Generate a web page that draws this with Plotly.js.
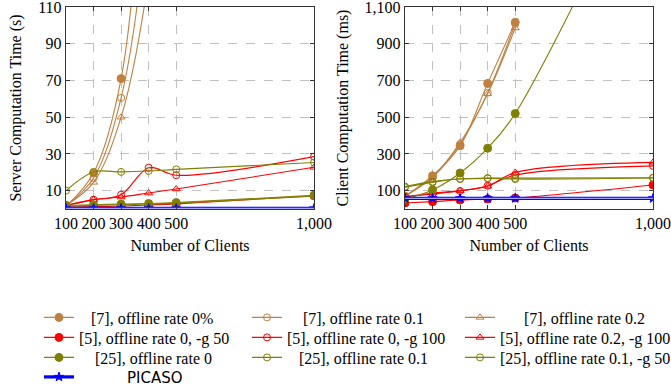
<!DOCTYPE html>
<html>
<head>
<meta charset="utf-8">
<script src="https://cdn.plot.ly/plotly-3.0.1.min.js"></script>
<style>html,body{margin:0;padding:0;background:#fff;}#chart{width:671px;height:387px;}</style>
</head>
<body>
<div id="chart"></div>
<script>
// Number of clients
const clients = [100, 200, 300, 400, 500, 1000];

// Server computation time (s)
const srv_7_0   = [1.5, 19.6, 71, 230, 400, null];
const srv_7_01  = [1.8, 16.9, 60.5, 160, 300, null];
const srv_7_02  = [2.0, 14.5, 50, 125, 250, null];
const srv_5_0_g50   = [1.0, 1.3, 1.6, 2.2, 2.8, 7.2];
const srv_5_0_g100  = [1.8, 5.1, 7.8, 22.5, 18.4, 28.5];
const srv_5_02_g100 = [2.0, 5.0, 6.5, 8.7, 10.9, 22.7];
const srv_25_0      = [2.0, 2.3, 2.7, 3.0, 3.5, 7.5];
const srv_25_01     = [10.0, 20.2, 20.2, 20.7, 21.6, 25.3];
const srv_25_01_g50 = [1.5, 2.0, 2.3, 2.7, 3.2, 7.0];
const srv_picaso    = [0.3, 0.3, 0.3, 0.3, 0.3, 0.3];

// Client computation time (ms)
const cli_7_0   = [70, 181, 344, 684, 1017, null];
const cli_7_01  = [70, 172, 353, 633, 1008, null];
const cli_7_02  = [70, 175, 362, 628, 986, null];
const cli_5_0_g50   = [33, 40, 49, 55, 60, 131];
const cli_5_0_g100  = [67, 82, 98, 127, 185, 235];
const cli_5_02_g100 = [67, 86, 100, 124, 199, 254];
const cli_25_0      = [55, 104, 196, 331, 520, 2000];
const cli_25_01     = [122, 149, 163, 167, 163, 169];
const cli_25_01_g50 = [118, 145, 165, 168, 168, 170];
const cli_picaso    = [58, 58, 58, 58, 58, 58];

const seriesNames = [
  "[7], offline rate 0%", "[7], offline rate 0.1", "[7], offline rate 0.2",
  "[5], offline rate 0, -g 50", "[5], offline rate 0, -g 100", "[5], offline rate 0.2, -g 100",
  "[25], offline rate 0", "[25], offline rate 0.1", "[25], offline rate 0.1, -g 50",
  "PICASO"
];

const BROWN = "rgb(191,128,64)", RED = "rgb(255,0,0)", OLIVE = "rgb(128,128,0)", BLUE = "rgb(0,0,255)";
const styles = [
  {c: BROWN, s: "circle", open: false},
  {c: BROWN, s: "circle-open", open: true},
  {c: BROWN, s: "triangle-up-open", open: true},
  {c: RED, s: "circle", open: false},
  {c: RED, s: "circle-open", open: true},
  {c: RED, s: "triangle-up-open", open: true},
  {c: OLIVE, s: "circle", open: false},
  {c: OLIVE, s: "circle-open", open: true},
  {c: OLIVE, s: "circle-open", open: true},
  {c: BLUE, s: "star", open: false}
];

// legend placement (3 columns x 4 rows, centred text like the original)
const legCol = [0, 1, 2, 0, 1, 2, 0, 1, 2, 0];
const legRow = [0, 0, 0, 1, 1, 1, 2, 2, 2, 3];
const legPad = [3, 4, 6, 0, 0, 0, 4, 3, 0, 12];
const colX = [39, 247, 460];
const rowTop = [300.5, 320.5, 340.5, 360];

const serverData = [srv_7_0, srv_7_01, srv_7_02, srv_5_0_g50, srv_5_0_g100, srv_5_02_g100, srv_25_0, srv_25_01, srv_25_01_g50, srv_picaso];
const clientData = [cli_7_0, cli_7_01, cli_7_02, cli_5_0_g50, cli_5_0_g100, cli_5_02_g100, cli_25_0, cli_25_01, cli_25_01_g50, cli_picaso];

function legId(i) { return i === 0 ? "legend" : "legend" + (i + 1); }

const traces = [];
function addSet(data, xa, ya, showLegend) {
  data.forEach((ys, i) => {
    const st = styles[i];
    const isPicaso = i === 9;
    let name = seriesNames[i];
    if (isPicaso) name = '<span style="font-family:DejaVu Sans;font-size:15px">' + name + '</span>';
    name = "\u00A0".repeat(legPad[i]) + name;
    traces.push({
      x: clients, y: ys, xaxis: xa, yaxis: ya,
      type: "scatter", mode: "lines+markers",
      name: name, showlegend: showLegend, legend: legId(i), legendgroup: "g" + i,
      line: {color: st.c, width: isPicaso ? 3.2 : 1.1, shape: "spline", smoothing: 1},
      marker: {symbol: st.s, color: st.c, size: st.open ? 7 : (isPicaso ? 7 : 8),
               line: {color: st.c, width: 1}},
      connectgaps: false, cliponaxis: true, hoverinfo: "skip"
    });
    if (isPicaso) {
      traces.push({
        x: clients, y: ys, xaxis: xa, yaxis: ya, type: "scatter", mode: "lines",
        showlegend: false, legendgroup: "g" + i, hoverinfo: "skip",
        line: {color: "rgb(160,160,255)", width: 1.4}
      });
    }
  });
}
addSet(serverData, "x", "y", true);
addSet(clientData, "x2", "y2", false);

function mkFont() { return {family: "Liberation Serif", size: 16, color: "#000"}; }
function axisCommon() {
  return {
    showline: true, mirror: "ticks", linecolor: "#333", linewidth: 1.2,
    ticks: "inside", ticklen: 4, tickcolor: "#333",
    showgrid: true, gridcolor: "#c0c0c0", griddash: "dash", gridwidth: 1,
    zeroline: false, tickfont: mkFont(), tickformat: ",d", ticklabeloverflow: "allow"
  };
}

const TOP = 7, BOT = 178, PH = 387 - TOP - BOT;
const layout = {
  width: 671, height: 387,
  margin: {l: 0, r: 0, t: TOP, b: BOT, autoexpand: false},
  paper_bgcolor: "#fff", plot_bgcolor: "#fff",
  font: mkFont(),
  showlegend: true,
  xaxis: Object.assign(axisCommon(), {domain: [66/671, 314/671], range: [100, 1000],
    tickvals: clients, title: {text: "Number of Clients", font: mkFont(), standoff: 8}}),
  yaxis: Object.assign(axisCommon(), {range: [0, 110], tickvals: [10, 30, 50, 70, 90, 110],
    title: {text: "Server Computation Time (s)", font: mkFont(), standoff: 12}}),
  xaxis2: Object.assign(axisCommon(), {domain: [405/671, 653/671], range: [100, 1000],
    tickvals: clients, anchor: "y2", title: {text: "Number of Clients", font: mkFont(), standoff: 8}}),
  yaxis2: Object.assign(axisCommon(), {range: [0, 1100], anchor: "x2",
    tickvals: [100, 300, 500, 700, 900, 1100],
    title: {text: "Client Computation Time (ms)", font: mkFont(), standoff: 12}})
};
for (let i = 0; i < 10; i++) {
  layout[legId(i)] = {
    orientation: "v", xanchor: "left", yanchor: "top",
    x: colX[legCol[i]] / 671,
    y: -(rowTop[legRow[i]] - (387 - BOT)) / PH,
    itemwidth: 30, font: mkFont(), bgcolor: "rgba(0,0,0,0)", borderwidth: 0
  };
}

Plotly.newPlot("chart", traces, layout, {displayModeBar: false, staticPlot: true});
</script>
</body>
</html>
